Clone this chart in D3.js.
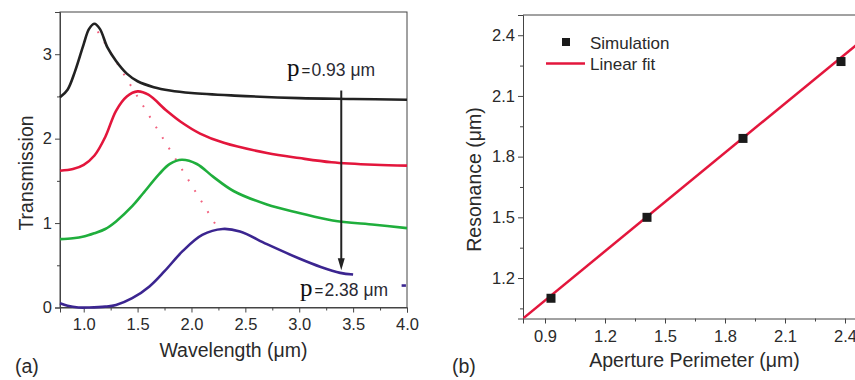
<!DOCTYPE html>
<html>
<head>
<meta charset="utf-8">
<script src="https://cdn.jsdelivr.net/npm/d3@7"></script>
<style>
  body { margin: 0; background: #fff; }
  svg { display: block; font-family: "Liberation Sans", Arial, sans-serif; }
  .axis path, .axis line { stroke: #444; }
  .axis text { fill: #2a2a2a; font-size: 16.5px; font-family: "Liberation Sans", Arial, sans-serif; }
  .title { fill: #2a2a2a; font-size: 19.5px; }
</style>
</head>
<body>
<svg id="chart" width="855" height="380"></svg>
<script>
// panel (a): transmission spectra, offset curves
var blackX = [0.78, 0.85, 0.92, 1.00, 1.05, 1.10, 1.15, 1.22, 1.30, 1.40, 1.50, 1.65, 1.80, 2.00, 2.40, 3.00, 3.50, 4.00];
var blackY = [2.49, 2.58, 2.80, 3.12, 3.30, 3.36, 3.30, 3.08, 2.92, 2.77, 2.68, 2.61, 2.57, 2.54, 2.51, 2.48, 2.47, 2.46];

var redX = [0.78, 0.90, 1.00, 1.10, 1.20, 1.30, 1.40, 1.50, 1.60, 1.77, 1.90, 2.08, 2.30, 2.70, 3.00, 3.30, 3.70, 4.00];
var redY = [1.62, 1.64, 1.69, 1.80, 2.02, 2.33, 2.50, 2.56, 2.52, 2.33, 2.20, 2.06, 1.95, 1.83, 1.77, 1.72, 1.69, 1.68];

var greenX = [0.78, 0.90, 1.00, 1.10, 1.20, 1.30, 1.45, 1.55, 1.70, 1.80, 1.91, 2.05, 2.20, 2.39, 2.70, 3.00, 3.31, 3.70, 4.00];
var greenY = [0.81, 0.82, 0.84, 0.88, 0.93, 1.02, 1.20, 1.35, 1.58, 1.70, 1.75, 1.70, 1.55, 1.38, 1.22, 1.12, 1.03, 0.98, 0.94];

var blueX = [0.78, 0.85, 0.95, 1.05, 1.20, 1.30, 1.45, 1.61, 1.75, 1.92, 2.10, 2.29, 2.45, 2.70, 3.00, 3.20, 3.38, 3.50];
var blueY = [0.05, 0.02, 0.00, 0.00, 0.01, 0.03, 0.11, 0.25, 0.43, 0.67, 0.86, 0.93, 0.90, 0.75, 0.58, 0.48, 0.41, 0.39];

var strayX = [3.95, 3.99];
var strayY = [0.26, 0.26];

// dotted guide through the peaks
var peakLineX = [1.13, 2.23];
var peakLineY = [3.27, 0.97];

// arrow from p = 0.93 to p = 2.38
var arrowX = 3.39;
var arrowY = [2.57, 0.44];

var xTicksA = [1.0, 1.5, 2.0, 2.5, 3.0, 3.5, 4.0];
var yTicksA = [0, 1, 2, 3];

// panel (b): resonance vs aperture perimeter
var perimeter = [0.93, 1.41, 1.89, 2.38];
var resonance = [1.10, 1.50, 1.89, 2.27];
var fitX = [0.79, 2.5];
var fitY = [1.0, 2.387];

var xTicksB = [0.9, 1.2, 1.5, 1.8, 2.1, 2.4];
var yTicksB = [1.2, 1.5, 1.8, 2.1, 2.4];

var svg = d3.select("#chart");

function midTicks(ticks) {
  var out = [];
  for (var i = 0; i < ticks.length - 1; i++) out.push((ticks[i] + ticks[i + 1]) / 2);
  return out;
}

function pts(xs, ys) {
  return xs.map(function(d, i) { return [d, ys[i]]; });
}

// ---------- panel (a)
var xa = d3.scaleLinear().domain([0.78, 4.0]).range([60, 407]);
var ya = d3.scaleLinear().domain([0, 3.5]).range([307.5, 12]);

var lineA = d3.line()
  .x(function(d) { return xa(d[0]); })
  .y(function(d) { return ya(d[1]); })
  .curve(d3.curveCatmullRom.alpha(0.5));

svg.append("g")
  .attr("class", "axis")
  .attr("transform", "translate(0," + ya(0) + ")")
  .call(d3.axisBottom(xa).tickValues(midTicks(xTicksA)).tickSize(3).tickFormat(""))
  .call(function(g) { g.select(".domain").remove(); });

svg.append("g")
  .attr("class", "axis")
  .attr("transform", "translate(0," + ya(0) + ")")
  .call(d3.axisBottom(xa).tickValues(xTicksA).tickSize(5).tickPadding(6).tickFormat(d3.format(".1f")));

svg.append("g")
  .attr("class", "axis")
  .attr("transform", "translate(" + xa(0.78) + ",0)")
  .call(d3.axisLeft(ya).tickValues(midTicks(yTicksA)).tickSize(3).tickFormat(""))
  .call(function(g) { g.select(".domain").remove(); });

svg.append("g")
  .attr("class", "axis")
  .attr("transform", "translate(" + xa(0.78) + ",0)")
  .call(d3.axisLeft(ya).tickValues(yTicksA).tickSize(5).tickFormat(d3.format("d")));

svg.append("rect")
  .attr("x", xa(0.78))
  .attr("y", ya(3.5))
  .attr("width", xa(4.0) - xa(0.78))
  .attr("height", ya(0) - ya(3.5))
  .attr("fill", "none")
  .attr("stroke", "#444");

svg.append("path")
  .datum(pts(peakLineX, peakLineY))
  .attr("d", d3.line().x(function(d) { return xa(d[0]); }).y(function(d) { return ya(d[1]); }))
  .attr("fill", "none")
  .attr("stroke", "#f2607e")
  .attr("stroke-width", 2)
  .attr("stroke-dasharray", "1.8,10.6");

var curves = [
  { x: blueX, y: blueY, color: "#3b2590" },
  { x: greenX, y: greenY, color: "#1fae3c" },
  { x: redX, y: redY, color: "#e3163c" },
  { x: blackX, y: blackY, color: "#222222" },
  { x: strayX, y: strayY, color: "#3b2590" }
];

svg.selectAll(".curve")
  .data(curves)
  .enter()
  .append("path")
    .attr("class", "curve")
    .attr("d", function(d) { return lineA(pts(d.x, d.y)); })
    .attr("fill", "none")
    .attr("stroke", function(d) { return d.color; })
    .attr("stroke-width", 2.6);

// arrow
svg.append("line")
  .attr("x1", xa(arrowX)).attr("x2", xa(arrowX))
  .attr("y1", ya(arrowY[0])).attr("y2", ya(arrowY[1]) - 10)
  .attr("stroke", "#222")
  .attr("stroke-width", 2);

svg.append("path")
  .attr("d", "M" + (xa(arrowX) - 3.5) + "," + (ya(arrowY[1]) - 12) +
             "L" + (xa(arrowX) + 3.5) + "," + (ya(arrowY[1]) - 12) +
             "L" + xa(arrowX) + "," + ya(arrowY[1]) + "Z")
  .attr("fill", "#222");

function pLabel(x, y, value) {
  var g = svg.append("g").attr("transform", "translate(" + x + "," + y + ")");
  g.append("text").text("p")
    .attr("font-family", "'Liberation Serif', 'Times New Roman', serif")
    .attr("font-size", 25).attr("fill", "#111");
  g.append("text").text("=")
    .attr("x", 14.5).attr("font-size", 15).attr("fill", "#222");
  g.append("text").text(value + " \u03bcm")
    .attr("x", 24.5).attr("font-size", 17.5).attr("fill", "#2a2a33");
}
pLabel(287, 75.5, "0.93");
pLabel(300, 296, "2.38");

svg.append("text")
  .attr("class", "title")
  .attr("x", 233.5).attr("y", 357)
  .attr("text-anchor", "middle")
  .text("Wavelength (\u03bcm)");

svg.append("text")
  .attr("class", "title")
  .attr("transform", "translate(33,173) rotate(-90)")
  .attr("text-anchor", "middle")
  .text("Transmission");

svg.append("text")
  .attr("class", "title")
  .attr("x", 15).attr("y", 373)
  .attr("font-size", 19)
  .text("(a)");

// ---------- panel (b)
var xb = d3.scaleLinear().domain([0.79, 2.5]).range([523, 865]);
var yb = d3.scaleLinear().domain([1.0, 2.5]).range([318.5, 15]);

svg.append("defs").append("clipPath")
  .attr("id", "clipB")
  .append("rect")
    .attr("x", xb(0.79)).attr("y", yb(2.5))
    .attr("width", xb(2.5) - xb(0.79)).attr("height", yb(1.0) - yb(2.5));

svg.append("g")
  .attr("class", "axis")
  .attr("transform", "translate(0," + yb(1.0) + ")")
  .call(d3.axisBottom(xb).tickValues(midTicks(xTicksB)).tickSize(3).tickFormat(""))
  .call(function(g) { g.select(".domain").remove(); });

svg.append("g")
  .attr("class", "axis")
  .attr("transform", "translate(0," + yb(1.0) + ")")
  .call(d3.axisBottom(xb).tickValues(xTicksB).tickSize(5).tickPadding(6.5).tickFormat(d3.format(".1f")));

svg.append("g")
  .attr("class", "axis")
  .attr("transform", "translate(" + xb(0.79) + ",0)")
  .call(d3.axisLeft(yb).tickValues([1.05].concat(midTicks(yTicksB))).tickSize(3).tickFormat(""))
  .call(function(g) { g.select(".domain").remove(); });

svg.append("g")
  .attr("class", "axis")
  .attr("transform", "translate(" + xb(0.79) + ",0)")
  .call(d3.axisLeft(yb).tickValues(yTicksB).tickSize(5).tickFormat(d3.format(".1f")));

svg.append("line")
  .attr("x1", xb(0.79)).attr("x2", xb(2.5))
  .attr("y1", yb(2.5)).attr("y2", yb(2.5))
  .attr("stroke", "#444");

svg.append("path")
  .datum(pts(fitX, fitY))
  .attr("clip-path", "url(#clipB)")
  .attr("d", d3.line().x(function(d) { return xb(d[0]); }).y(function(d) { return yb(d[1]); }))
  .attr("fill", "none")
  .attr("stroke", "#e3163c")
  .attr("stroke-width", 2.5);

svg.selectAll(".sim")
  .data(perimeter)
  .enter()
  .append("rect")
    .attr("class", "sim")
    .attr("x", function(d) { return xb(d) - 4.5; })
    .attr("y", function(d, i) { return yb(resonance[i]) - 4.5; })
    .attr("width", 9)
    .attr("height", 9)
    .attr("fill", "#1a1a1a");

// legend
svg.append("rect")
  .attr("x", 562).attr("y", 38).attr("width", 8).attr("height", 8)
  .attr("fill", "#1a1a1a");
svg.append("text")
  .attr("x", 590).attr("y", 48.5)
  .attr("font-size", 17).attr("fill", "#2a2a2a")
  .text("Simulation");
svg.append("line")
  .attr("x1", 546).attr("x2", 585)
  .attr("y1", 63.5).attr("y2", 63.5)
  .attr("stroke", "#e3163c").attr("stroke-width", 2.5);
svg.append("text")
  .attr("x", 590).attr("y", 69.5)
  .attr("font-size", 17).attr("fill", "#2a2a2a")
  .text("Linear fit");

svg.append("text")
  .attr("class", "title")
  .attr("x", 694.5).attr("y", 366.5)
  .attr("text-anchor", "middle")
  .text("Aperture Perimeter (\u03bcm)");

svg.append("text")
  .attr("class", "title")
  .attr("transform", "translate(481,179.5) rotate(-90)")
  .attr("text-anchor", "middle")
  .text("Resonance (\u03bcm)");

svg.append("text")
  .attr("class", "title")
  .attr("x", 452).attr("y", 373)
  .attr("font-size", 19)
  .text("(b)");
</script>
</body>
</html>
